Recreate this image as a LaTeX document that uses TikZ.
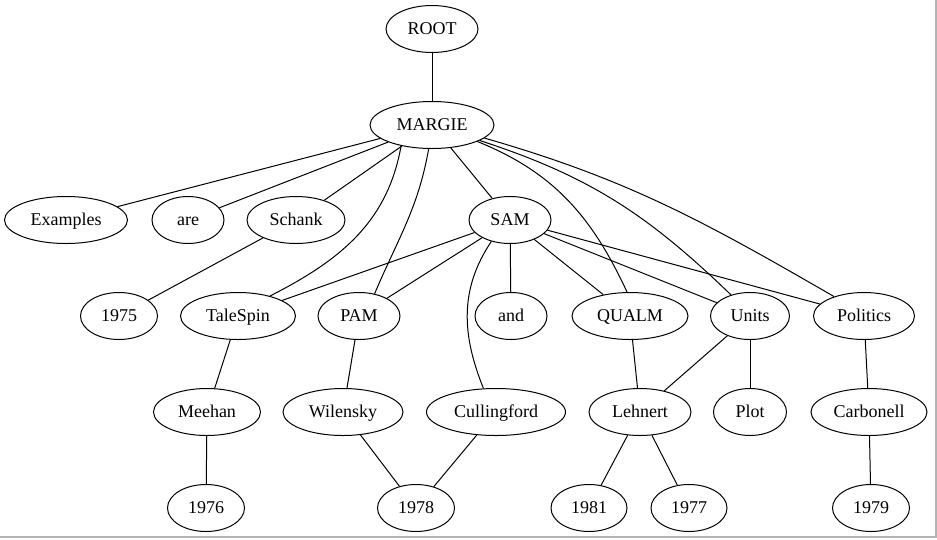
\documentclass[tikz,border=0pt]{standalone}
\usepackage{fontspec}
\setmainfont{Liberation Serif}
\usetikzlibrary{shapes.geometric}

\begin{document}
\begin{tikzpicture}[x=1pt,y=1pt,
    word/.style ={ellipse, draw, line width=1pt, inner sep=0pt, minimum height=47pt,
      text height=13.5pt, text depth=1.6pt, font=\fontsize{18}{21}\selectfont},
    link/.style ={line width=1pt}]
   \useasboundingbox (0,0) rectangle (937,-539);
   \draw[gray!60,line width=2pt] (0,-537) -- (936,-537) -- (936,0);
   % levels
   \node[word,minimum width=92pt]  (root)     at (432,-29)  {ROOT};
   \node[word,minimum width=124pt] (margie)   at (432,-125) {MARGIE};
   \node[word,minimum width=123pt] (examples) at (66,-220)  {Examples};
   \node[word,minimum width=72pt]  (are)      at (188,-220) {are};
   \node[word,minimum width=98pt]  (schank)   at (296,-220) {Schank};
   \node[word,minimum width=82pt]  (sam)      at (510,-220) {SAM};
   \node[word,minimum width=77pt]  (y1975)    at (119,-316) {1975};
   \node[word,minimum width=115pt] (talespin) at (238,-316) {TaleSpin};
   \node[word,minimum width=82pt]  (pam)      at (359,-316) {PAM};
   \node[word,minimum width=72pt]  (and)      at (511,-316) {and};
   \node[word,minimum width=116pt] (qualm)    at (630,-316) {QUALM};
   \node[word,minimum width=79pt]  (units)    at (750,-316) {Units};
   \node[word,minimum width=101pt] (politics) at (864,-316) {Politics};
   \node[word,minimum width=107pt] (meehan)   at (207,-412) {Meehan};
   \node[word,minimum width=120pt] (wilensky) at (343,-412) {Wilensky};
   \node[word,minimum width=139pt] (cullingford) at (496,-412) {Cullingford};
   \node[word,minimum width=102pt] (lehnert)  at (640,-412) {Lehnert};
   \node[word,minimum width=73pt]  (plot)     at (750,-412) {Plot};
   \node[word,minimum width=116pt] (carbonell) at (869,-412) {Carbonell};
   \node[word,minimum width=77pt]  (y1976)    at (206,-508) {1976};
   \node[word,minimum width=77pt]  (y1978)    at (416,-508) {1978};
   \node[word,minimum width=76pt]  (y1981)    at (589,-508) {1981};
   \node[word,minimum width=76pt]  (y1977)    at (689,-508) {1977};
   \node[word,minimum width=77pt]  (y1979)    at (871,-508) {1979};
   % straight links
   \draw[link] (root) -- (margie);
   \draw[link] (margie) -- (examples);
   \draw[link] (margie) -- (are);
   \draw[link] (margie) -- (schank);
   \draw[link] (margie) -- (sam);
   \draw[link] (schank) -- (y1975);
   \draw[link] (sam) -- (talespin);
   \draw[link] (sam) -- (pam);
   \draw[link] (sam) -- (and);
   \draw[link] (sam) -- (qualm);
   \draw[link] (sam) -- (units);
   \draw[link] (sam) -- (politics);
   \draw[link] (talespin) -- (meehan);
   \draw[link] (meehan) -- (y1976);
   \draw[link] (pam) -- (wilensky);
   \draw[link] (wilensky) -- (y1978);
   \draw[link] (cullingford) -- (y1978);
   \draw[link] (qualm) -- (lehnert);
   \draw[link] (units) -- (lehnert);
   \draw[link] (units) -- (plot);
   \draw[link] (lehnert) -- (y1981);
   \draw[link] (lehnert) -- (y1977);
   \draw[link] (politics) -- (carbonell);
   \draw[link] (carbonell) -- (y1979);
   % curved links
   \draw[link] (margie.214) to[out=-100,in=27]  (talespin.32);
   \draw[link] (margie.262) to[out=-100,in=67]  (pam.55);
   \draw[link] (margie.340) to[out=-22,in=115]  (qualm.97);
   \draw[link] (margie.342) to[out=-18,in=136]  (units.132);
   \draw[link] (margie.346) to[out=-16,in=150]  (politics.147);
   \draw[link] (sam.229) to[out=-124,in=112]    (cullingford.118);
 \end{tikzpicture}
\end{document}
